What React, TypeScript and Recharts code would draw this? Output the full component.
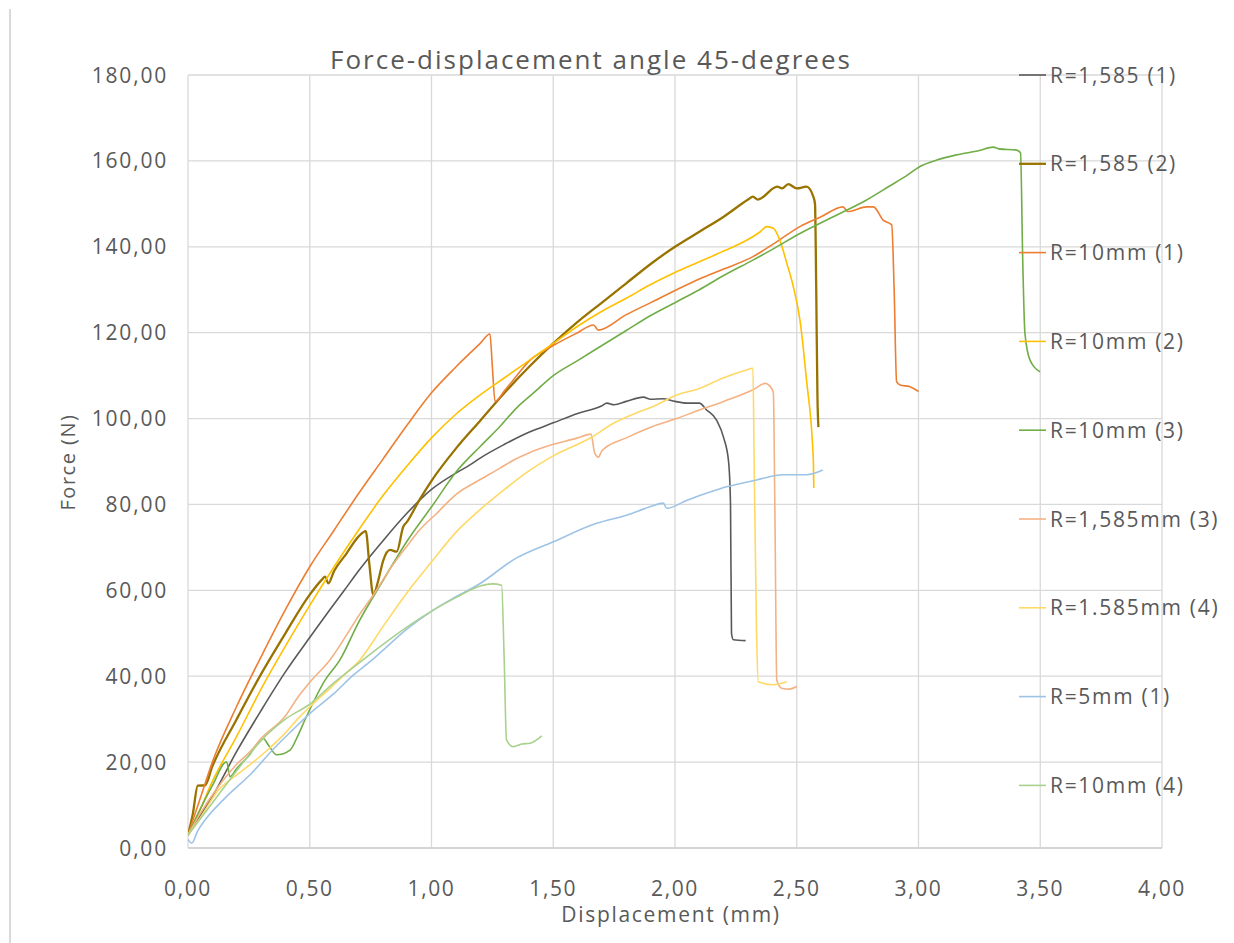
import { LineChart, Line, XAxis, YAxis, CartesianGrid } from 'recharts';

// Displacement (mm) / Force (N) pairs
const r1585_1: [number, number][] = [
  [0, 3], [0.05, 7.5], [0.1, 12], [0.2, 22.5], [0.3, 32], [0.4, 41], [0.5, 49], [0.6, 56.8], [0.642, 60],
  [0.7, 64.5], [0.8, 71.5], [0.9, 78], [1.0, 83.5], [1.1, 87.3], [1.158, 89.2], [1.2, 90.8], [1.3, 94],
  [1.4, 96.8], [1.5, 99], [1.6, 101.2], [1.7, 103], [1.72, 103.6], [1.75, 103.2], [1.8, 104], [1.87, 105],
  [1.9, 104.5], [1.95, 104.6], [2.0, 104], [2.05, 103.6], [2.1, 103.6], [2.13, 102], [2.17, 99.7],
  [2.2, 95.5], [2.22, 90], [2.228, 80], [2.232, 50], [2.24, 48.5], [2.29, 48.3],
];

const r1585_2: [number, number][] = [
  [0, 3], [0.02, 8], [0.04, 14.5], [0.07, 14.6], [0.1, 19], [0.2, 30], [0.3, 40.5], [0.4, 50], [0.5, 59],
  [0.55, 62.5], [0.563, 63.2], [0.576, 61.6], [0.6, 64.5], [0.65, 68.5], [0.7, 72.5], [0.73, 73.8],
  [0.745, 66], [0.761, 58.9], [0.78, 62], [0.802, 67], [0.83, 69.4], [0.857, 69], [0.884, 74.8], [0.9, 76],
  [0.95, 81], [1.0, 85.5], [1.1, 93], [1.2, 99.5], [1.3, 106], [1.4, 112], [1.5, 117.5], [1.6, 122.5],
  [1.7, 127], [1.8, 131.5], [1.9, 136], [2.0, 140], [2.1, 143.5], [2.2, 147], [2.3, 151],
  [2.32, 151.7], [2.34, 151], [2.42, 154], [2.44, 153.6], [2.465, 154.6], [2.5, 153.6], [2.54, 154],
  [2.568, 151.7], [2.575, 150], [2.58, 130], [2.585, 105], [2.589, 98],
];

const r10_1: [number, number][] = [
  [0, 3], [0.05, 11.5], [0.1, 20], [0.2, 33], [0.3, 44.5], [0.4, 55.5], [0.5, 65.5], [0.6, 74], [0.7, 82.5],
  [0.8, 90.5], [0.9, 98.5], [1.0, 106], [1.1, 112], [1.2, 117.5], [1.24, 119.7], [1.25, 112], [1.261, 104],
  [1.3, 106.5], [1.336, 109], [1.405, 113.6], [1.5, 117], [1.6, 120], [1.665, 121.8], [1.685, 120.6],
  [1.8, 124.2], [1.9, 127], [2.007, 130], [2.1, 132.5], [2.2, 134.8], [2.32, 137.7], [2.4, 140.5],
  [2.513, 144.7], [2.6, 147], [2.69, 149.3], [2.71, 148.2], [2.787, 149.3], [2.815, 149.3], [2.855, 146.2],
  [2.89, 145.1], [2.9, 130], [2.91, 108.6], [2.924, 107.8], [2.965, 107.4], [3.0, 106.3],
];

const r10_2: [number, number][] = [
  [0, 3], [0.05, 9], [0.1, 15.5], [0.2, 26], [0.3, 37], [0.4, 47], [0.5, 56.5], [0.6, 65.5], [0.7, 74],
  [0.8, 82], [0.9, 89], [1.0, 95.5], [1.1, 101], [1.2, 105.5], [1.3, 109.5], [1.4, 113.5], [1.5, 117.5],
  [1.6, 121.5], [1.7, 125], [1.8, 128], [1.9, 131.2], [2.0, 134], [2.1, 136.5], [2.2, 139], [2.3, 141.7],
  [2.35, 143.5], [2.376, 144.7], [2.404, 144.3], [2.43, 141.6], [2.46, 136], [2.486, 130.7], [2.513, 123],
  [2.54, 109], [2.568, 90.4], [2.57, 83.8],
];

const r10_3: [number, number][] = [
  [0, 3], [0.05, 9], [0.1, 14.5], [0.159, 20.1], [0.172, 16.6], [0.2, 18.5], [0.25, 21.5], [0.309, 25.5],
  [0.33, 24], [0.364, 21.7], [0.419, 22.8], [0.45, 26], [0.48, 29.8], [0.563, 39.1], [0.624, 43.8],
  [0.7, 52.5], [0.802, 62.4], [0.9, 71.5], [1.007, 80], [1.1, 87.5], [1.2, 93.5], [1.28, 98.1],
  [1.35, 102.5], [1.418, 105.9], [1.5, 110], [1.6, 113.5], [1.7, 117], [1.8, 120.5], [1.9, 124],
  [2.007, 127.2], [2.1, 130], [2.2, 133.3], [2.32, 136.9], [2.4, 139.4], [2.513, 143.1], [2.65, 147],
  [2.787, 150.9], [2.883, 154.2], [2.95, 156.5], [3.006, 158.7], [3.075, 160.2], [3.156, 161.4],
  [3.25, 162.4], [3.307, 163.2], [3.33, 162.8], [3.403, 162.5], [3.419, 161.9], [3.428, 136.9],
  [3.437, 119.9], [3.458, 113.6], [3.499, 110.9],
];

const r1585_3: [number, number][] = [
  [0, 3], [0.05, 8], [0.125, 14.3], [0.2, 19.5], [0.261, 22.8], [0.3, 25.5], [0.398, 30.6], [0.45, 35],
  [0.508, 39.1], [0.583, 43.8], [0.65, 49.5], [0.7, 54], [0.761, 58.9], [0.83, 65], [0.898, 70.2],
  [0.95, 74], [1.021, 77.9], [1.1, 82.3], [1.2, 85.8], [1.28, 88.4], [1.336, 90.3], [1.4, 92], [1.5, 94],
  [1.6, 95.5], [1.637, 96.2], [1.655, 96.4], [1.67, 92], [1.685, 91], [1.7, 92.5], [1.8, 95.5], [1.9, 98],
  [2.007, 100], [2.1, 102], [2.2, 104], [2.32, 106.7], [2.37, 108.2], [2.397, 107], [2.404, 105.9],
  [2.41, 80], [2.418, 39.1], [2.438, 37.2], [2.47, 37], [2.5, 37.6],
];

const r1585_4: [number, number][] = [
  [0, 3], [0.05, 7], [0.125, 13.5], [0.2, 17], [0.261, 19.7], [0.33, 23], [0.398, 26.7], [0.45, 30],
  [0.508, 33.3], [0.58, 37], [0.645, 40.5], [0.706, 43.8], [0.8, 51.5], [0.898, 59.3], [1.007, 67.1],
  [1.1, 73.5], [1.2, 78.8], [1.3, 83.5], [1.4, 87.8], [1.5, 91.3], [1.6, 94], [1.651, 95.4],
  [1.747, 98.9], [1.85, 101.5], [1.911, 102.8], [2.007, 105.5], [2.1, 107], [2.2, 109.5], [2.294, 111.3],
  [2.32, 111.7], [2.325, 90], [2.335, 50], [2.342, 38.7], [2.404, 38], [2.459, 38.7],
];

const r5_1: [number, number][] = [
  [0, 2], [0.015, 1.1], [0.04, 4], [0.07, 6.5], [0.15, 11.5], [0.261, 17.4], [0.35, 23], [0.43, 27.5],
  [0.508, 31.7], [0.6, 36], [0.672, 39.9], [0.75, 43.5], [0.8, 46], [0.9, 51], [1.007, 55.4], [1.1, 58.5],
  [1.2, 61.6], [1.336, 67.1], [1.5, 71.3], [1.678, 75.6], [1.801, 77.5], [1.9, 79.5], [1.952, 80.3],
  [1.966, 79.1], [2.05, 81], [2.15, 83], [2.212, 84.1], [2.335, 85.7], [2.445, 86.9], [2.541, 86.9],
  [2.607, 88],
];

const r10_4: [number, number][] = [
  [0, 3], [0.1, 10.5], [0.2, 18], [0.3, 25], [0.4, 30], [0.5, 33.5], [0.6, 38.5], [0.7, 43], [0.789, 46.9],
  [0.9, 51.5], [1.007, 55.4], [1.1, 58.3], [1.2, 61], [1.25, 61.5], [1.288, 61.2], [1.298, 45],
  [1.308, 25.2], [1.336, 23.6], [1.37, 24.2], [1.405, 24.4], [1.453, 26.1],
];

const seriesNames = [
  'R=1,585 (1)', 'R=1,585 (2)', 'R=10mm (1)', 'R=10mm (2)', 'R=10mm (3)',
  'R=1,585mm (3)', 'R=1.585mm (4)', 'R=5mm (1)', 'R=10mm (4)',
];
const seriesPoints = [r1585_1, r1585_2, r10_1, r10_2, r10_3, r1585_3, r1585_4, r5_1, r10_4];
const seriesColors = ['#595959', '#997300', '#ED7D31', '#FFC000', '#70AD47', '#F4B183', '#FFD966', '#9DC3E6', '#A9D18E'];
const seriesWidths = [1.6, 2.3, 1.6, 1.6, 1.6, 1.6, 1.6, 1.6, 1.6];

const xTicks = [0, 0.5, 1, 1.5, 2, 2.5, 3, 3.5, 4];
const yTicks = [0, 20, 40, 60, 80, 100, 120, 140, 160, 180];

const FONT = '"Open Sans", sans-serif';
const TEXT = '#595959';
const fmt = (v: number) => v.toFixed(2).replace('.', ',');

const XTick = ({ x, y, payload }: any) => (
  <text x={x} y={y} dy={40} textAnchor="middle" fill={TEXT} fontFamily={FONT} fontSize={21} letterSpacing={1.6}>
    {fmt(payload.value)}
  </text>
);

const YTick = ({ x, y, payload }: any) => (
  <text x={x} y={y} dx={-12} dy={7.5} textAnchor="end" fill={TEXT} fontFamily={FONT} fontSize={21} letterSpacing={1.8}>
    {fmt(payload.value)}
  </text>
);

export default function App() {
  const W = 1234;
  const H = 943;
  return (
    <div style={{ position: 'absolute', left: 0, top: 0, width: W, height: H, background: '#fff', overflow: 'hidden' }}>
      <div style={{ position: 'absolute', left: 9, top: 9, width: 1.5, height: H - 9, background: '#d9d9d9' }} />
      <LineChart width={W} height={H} margin={{ top: 75, right: 72, bottom: 35, left: 68 }}>
        <CartesianGrid stroke="#d9d9d9" strokeWidth={1.3} />
        <XAxis
          type="number"
          dataKey="x"
          domain={[0, 4]}
          ticks={xTicks}
          height={60}
          tick={<XTick />}
          tickLine={false}
          axisLine={{ stroke: '#d0d0d0', strokeWidth: 1.5 }}
          allowDataOverflow
        />
        <YAxis
          type="number"
          dataKey="y"
          domain={[0, 180]}
          ticks={yTicks}
          width={120}
          tick={<YTick />}
          tickLine={false}
          axisLine={false}
          allowDataOverflow
        />
        {seriesPoints.map((pts, i) => (
          <Line
            key={seriesNames[i]}
            name={seriesNames[i]}
            data={pts.map(([x, y]) => ({ x, y }))}
            dataKey="y"
            type="monotone"
            stroke={seriesColors[i]}
            strokeWidth={seriesWidths[i]}
            dot={false}
            activeDot={false}
            isAnimationActive={false}
          />
        ))}
      </LineChart>
      <svg width={W} height={H} style={{ position: 'absolute', left: 0, top: 0, pointerEvents: 'none' }}>
        <text x={591} y={69} textAnchor="middle" fill={TEXT} fontFamily={FONT} fontSize={26} letterSpacing={2}>
          Force-displacement angle 45-degrees
        </text>
        <text x={75} y={462} transform="rotate(-90 75 462)" textAnchor="middle" fill={TEXT} fontFamily={FONT} fontSize={20} letterSpacing={1.5}>
          Force (N)
        </text>
        <text x={671} y={922} textAnchor="middle" fill={TEXT} fontFamily={FONT} fontSize={21} letterSpacing={1.7}>
          Displacement (mm)
        </text>
        {seriesNames.map((name, i) => {
          const ly = 75 + i * 88.8;
          return (
            <g key={name}>
              <line x1={1019} x2={1046} y1={ly} y2={ly} stroke={seriesColors[i]} strokeWidth={seriesWidths[i]} />
              <text x={1050} y={ly + 7.5} fill={TEXT} fontFamily={FONT} fontSize={21} letterSpacing={1.7}>
                {name}
              </text>
            </g>
          );
        })}
      </svg>
    </div>
  );
}
